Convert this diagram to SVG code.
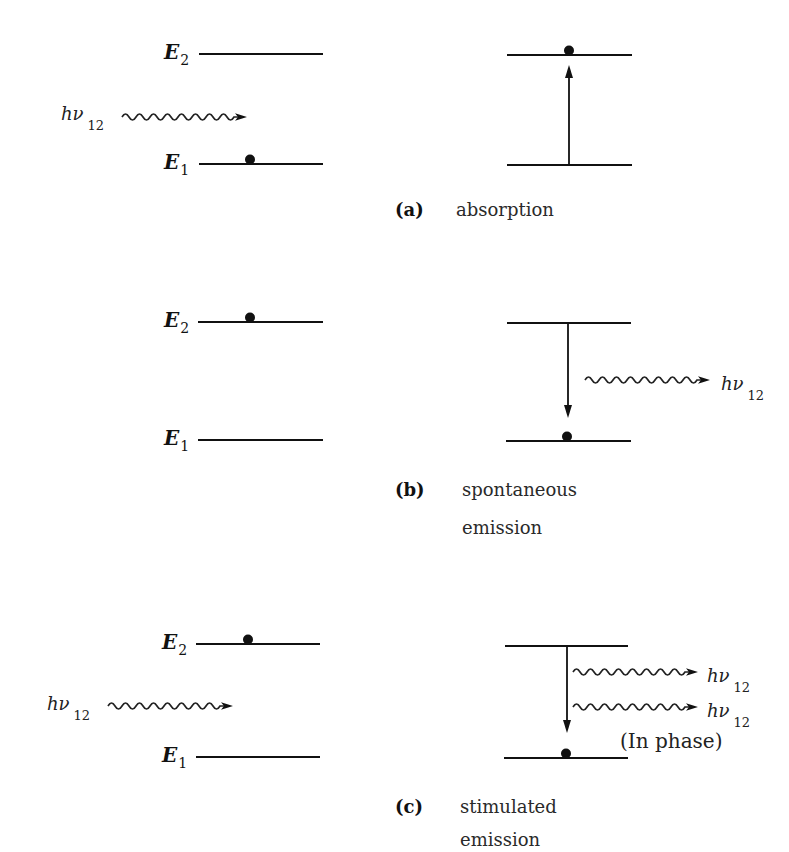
<svg xmlns="http://www.w3.org/2000/svg" xmlns:xlink="http://www.w3.org/1999/xlink" width="789" height="852" viewBox="0 0 789 852">
<style>
.lvl{stroke:#111;stroke-width:2;fill:none}
.ar{stroke:#111;stroke-width:1.8;fill:none}
.head{fill:#111}
.dot{fill:#111}
.E{font-family:"DejaVu Serif",serif;font-weight:bold;font-style:italic;font-size:20px;fill:#111}
.sub{font-size:14px;font-weight:normal;font-style:normal}
.hv{font-family:"DejaVu Serif",serif;font-style:italic;font-size:18px;fill:#222}
.hvs{font-size:13px;font-style:normal}
.tag{font-family:"DejaVu Serif",serif;font-weight:bold;font-size:18px;fill:#111}
.cap{font-family:"DejaVu Serif",serif;font-size:18px;fill:#2a2a2a}
.ph{font-family:"DejaVu Serif",serif;font-size:20px;fill:#222}
</style>
<defs>
<g id="photon">
<path d="M0,0 q3.5,-6 7,0 t7,0 t7,0 t7,0 t7,0 t7,0 t7,0 t7,0 t7,0 t7,0 t7,0 t7,0 t7,0 t7,0 t7,0 t7,0 l6,0" stroke="#222" stroke-width="1.7" fill="none"/>
<path d="M125,0 L113,-3.8 L116,0 L113,3.8 Z" fill="#111"/>
</g>
</defs>
<rect width="789" height="852" fill="#fff"/>

<g id="panel-a-left">
<line class="lvl" x1="199" y1="54" x2="323" y2="54"/>
<text class="E" x="164" y="59">E<tspan class="sub" dy="6" dx="1">2</tspan></text>
<line class="lvl" x1="199" y1="164" x2="323" y2="164"/>
<text class="E" x="164" y="169">E<tspan class="sub" dy="6" dx="1">1</tspan></text>
<circle class="dot" cx="250" cy="159.5" r="5"/>
<text class="hv" x="61" y="120">hν<tspan class="hvs" dy="10" dx="4">12</tspan></text>
</g>
<g id="panel-a-right">
<line class="lvl" x1="507" y1="55" x2="632" y2="55"/>
<line class="lvl" x1="507" y1="165" x2="632" y2="165"/>
<circle class="dot" cx="569" cy="50.5" r="5"/>
<text class="tag" x="395" y="216">(a)</text>
<text class="cap" x="456" y="216">absorption</text>
</g>

<g id="panel-b-left">
<line class="lvl" x1="198" y1="322" x2="323" y2="322"/>
<text class="E" x="164" y="327">E<tspan class="sub" dy="6" dx="1">2</tspan></text>
<circle class="dot" cx="250" cy="317.5" r="5"/>
<line class="lvl" x1="198" y1="440" x2="323" y2="440"/>
<text class="E" x="164" y="445">E<tspan class="sub" dy="6" dx="1">1</tspan></text>
</g>
<g id="panel-b-right">
<line class="lvl" x1="507" y1="323" x2="631" y2="323"/>
<line class="lvl" x1="506" y1="441" x2="631" y2="441"/>
<circle class="dot" cx="567" cy="436.5" r="5"/>
<text class="hv" x="721" y="390">hν<tspan class="hvs" dy="10" dx="4">12</tspan></text>
<text class="tag" x="395" y="496">(b)</text>
<text class="cap" x="462" y="496">spontaneous</text>
<text class="cap" x="462" y="534">emission</text>
</g>

<g id="panel-c-left">
<line class="lvl" x1="196" y1="644" x2="320" y2="644"/>
<text class="E" x="162" y="649">E<tspan class="sub" dy="6" dx="1">2</tspan></text>
<circle class="dot" cx="248" cy="639.5" r="5"/>
<line class="lvl" x1="196" y1="757" x2="320" y2="757"/>
<text class="E" x="162" y="762">E<tspan class="sub" dy="6" dx="1">1</tspan></text>
<text class="hv" x="47" y="710">hν<tspan class="hvs" dy="10" dx="4">12</tspan></text>
</g>
<g id="panel-c-right">
<line class="lvl" x1="505" y1="646" x2="628" y2="646"/>
<line class="lvl" x1="504" y1="758" x2="628" y2="758"/>
<circle class="dot" cx="566" cy="753.5" r="5"/>
<text class="hv" x="707" y="682">hν<tspan class="hvs" dy="10" dx="4">12</tspan></text>
<text class="hv" x="707" y="717">hν<tspan class="hvs" dy="10" dx="4">12</tspan></text>
<text class="ph" x="620" y="748">(In phase)</text>
<text class="tag" x="395" y="813">(c)</text>
<text class="cap" x="460" y="813">stimulated</text>
<text class="cap" x="460" y="846">emission</text>
</g>

<g id="connectors">
<use xlink:href="#photon" transform="translate(122,117)"/>
<line class="ar" x1="569" y1="165" x2="569" y2="74"/>
<path class="head" d="M569,65 L565,78 L573,78 Z"/>
<line class="ar" x1="568" y1="323" x2="568" y2="410"/>
<path class="head" d="M568,418 L564,405 L572,405 Z"/>
<use xlink:href="#photon" transform="translate(585,380)"/>
<use xlink:href="#photon" transform="translate(108,706)"/>
<line class="ar" x1="567" y1="646" x2="567" y2="725"/>
<path class="head" d="M567,733 L563,720 L571,720 Z"/>
<use xlink:href="#photon" transform="translate(573,672)"/>
<use xlink:href="#photon" transform="translate(573,707)"/>
</g>
</svg>
